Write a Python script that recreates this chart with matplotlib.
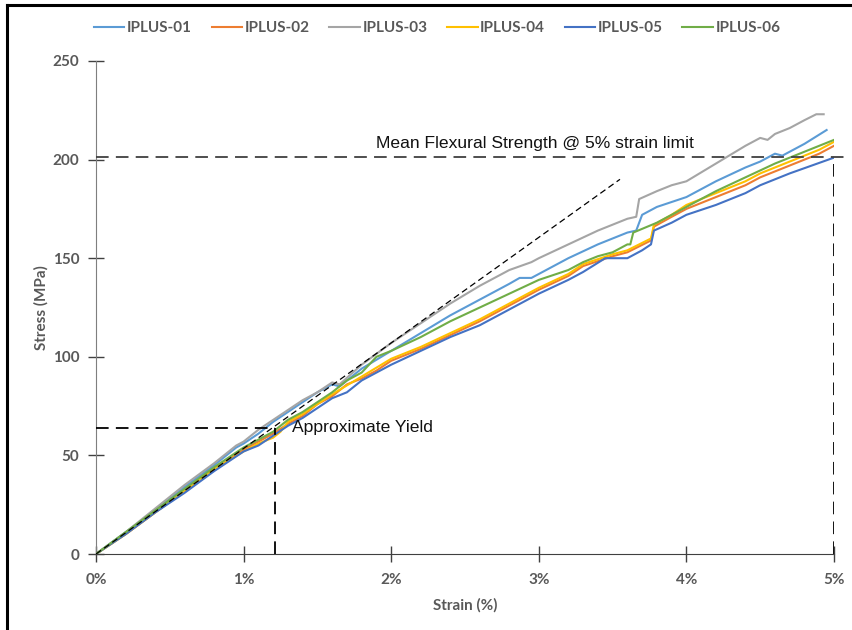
import matplotlib
matplotlib.use("Agg")
import matplotlib.pyplot as plt
from matplotlib.lines import Line2D

# ---- data: strain (%) vs stress (MPa) for each specimen ----
series_names = ["IPLUS-01", "IPLUS-02", "IPLUS-03", "IPLUS-04", "IPLUS-05", "IPLUS-06"]
series_colors = ["#5B9BD5", "#ED7D31", "#A5A5A5", "#FFC000", "#4472C4", "#70AD47"]

strain_01 = [0, 0.2, 0.4, 0.6, 0.8, 0.95, 1.0, 1.1, 1.2, 1.3, 1.4, 1.5, 1.6, 1.65, 1.8, 2.0,
             2.2, 2.4, 2.6, 2.8, 2.87, 2.95, 3.0, 3.2, 3.4, 3.6, 3.66, 3.7, 3.8, 4.0, 4.2, 4.4,
             4.5, 4.6, 4.65, 4.8, 4.95]
stress_01 = [0, 11, 22, 34, 45, 54, 56, 61, 67, 72, 77, 82, 86, 85, 94, 103,
             112, 121, 129, 137, 140, 140, 142, 150, 157, 163, 164, 172, 176, 181, 189, 196,
             199, 203, 202, 208, 215]

strain_02 = [0, 0.2, 0.4, 0.6, 0.8, 1.0, 1.1, 1.2, 1.3, 1.4, 1.5, 1.6, 1.7, 1.8, 1.9, 2.0,
             2.2, 2.4, 2.6, 2.8, 3.0, 3.2, 3.3, 3.5, 3.6, 3.76, 3.78, 3.9, 4.0, 4.2, 4.4, 4.5,
             4.7, 4.9, 5.0]
stress_02 = [0, 10, 21, 32, 43, 53, 57, 61, 66, 70, 76, 80, 86, 89, 93, 98,
             104, 111, 118, 126, 134, 141, 146, 151, 153, 159, 166, 171, 175, 181, 187, 191,
             197, 203, 207]

strain_03 = [0, 0.2, 0.4, 0.6, 0.8, 0.95, 1.0, 1.1, 1.2, 1.3, 1.4, 1.5, 1.6, 1.65, 1.8, 2.0,
             2.2, 2.4, 2.6, 2.8, 2.95, 3.0, 3.2, 3.4, 3.6, 3.66, 3.68, 3.8, 3.9, 4.0, 4.2, 4.4,
             4.5, 4.55, 4.6, 4.7, 4.8, 4.88, 4.93]
stress_03 = [0, 11, 23, 35, 46, 55, 57, 63, 68, 73, 78, 82, 87, 86, 96, 107,
             117, 127, 136, 144, 148, 150, 157, 164, 170, 171, 180, 184, 187, 189, 198, 207,
             211, 210, 213, 216, 220, 223, 223]

strain_04 = [0, 0.2, 0.4, 0.6, 0.8, 1.0, 1.1, 1.2, 1.25, 1.3, 1.4, 1.5, 1.6, 1.8, 2.0,
             2.2, 2.4, 2.6, 2.8, 3.0, 3.2, 3.3, 3.5, 3.6, 3.76, 3.78, 3.9, 4.0, 4.2, 4.4, 4.5,
             4.7, 4.9, 5.0]
stress_04 = [0, 10, 21, 32, 43, 52, 56, 59, 62, 67, 71, 76, 81, 90, 99,
             105, 112, 119, 127, 135, 142, 147, 152, 154, 160, 167, 172, 177, 183, 189, 193,
             199, 205, 209]

strain_05 = [0, 0.2, 0.4, 0.6, 0.8, 1.0, 1.1, 1.2, 1.3, 1.4, 1.5, 1.6, 1.7, 1.8, 2.0,
             2.2, 2.4, 2.6, 2.8, 3.0, 3.2, 3.3, 3.45, 3.5, 3.6, 3.7, 3.76, 3.78, 3.9, 4.0, 4.2,
             4.4, 4.5, 4.7, 4.85, 5.0]
stress_05 = [0, 10, 21, 31, 42, 52, 55, 60, 65, 69, 74, 79, 82, 88, 96,
             103, 110, 116, 124, 132, 139, 143, 150, 150, 150, 154, 157, 164, 168, 172, 177,
             183, 187, 193, 197, 201]

strain_06 = [0, 0.2, 0.4, 0.6, 0.8, 1.0, 1.1, 1.2, 1.3, 1.4, 1.5, 1.6, 1.7, 1.8, 1.9, 2.0,
             2.2, 2.4, 2.6, 2.8, 3.0, 3.2, 3.3, 3.4, 3.5, 3.6, 3.62, 3.64, 3.8, 4.0, 4.2, 4.4,
             4.6, 4.8, 5.0]
stress_06 = [0, 11, 22, 33, 44, 54, 58, 62, 68, 72, 77, 82, 88, 92, 100, 103,
             110, 118, 125, 132, 139, 144, 148, 151, 153, 157, 157, 163, 168, 176, 184, 191,
             198, 204, 210]

strains = [strain_01, strain_02, strain_03, strain_04, strain_05, strain_06]
stresses = [stress_01, stress_02, stress_03, stress_04, stress_05, stress_06]

# reference lines
tangent_strain = [0, 3.55]
tangent_stress = [0, 190]
yield_strain = 1.21
yield_stress = 64
strain_limit = 5.0
mean_strength = 201.5

x_ticks = [0, 1, 2, 3, 4, 5]
x_tick_labels = ["0%", "1%", "2%", "3%", "4%", "5%"]
y_ticks = [0, 50, 100, 150, 200, 250]

# ---- figure ----
fig = plt.figure(figsize=(8.52, 6.30), dpi=100)
ax = fig.add_axes([96 / 852, 1 - 554 / 630, (834 - 96) / 852, (554 - 61) / 630])

grey = "#595959"
label_font = {"family": ["Lato", "DejaVu Sans"], "weight": "bold", "color": grey}

for i in range(6):
    ax.plot(strains[i], stresses[i], color=series_colors[i], lw=1.5,
            label=series_names[i], zorder=3)

# initial-slope tangent
ax.plot(tangent_strain, tangent_stress, color="black", lw=0.9, ls=(0, (5, 3)), zorder=4)

# approximate yield
ax.plot([0, yield_strain], [yield_stress, yield_stress], color="black", lw=1.3,
        ls=(0, (7, 4)), zorder=4)
ax.plot([yield_strain, yield_strain], [0, yield_stress], color="black", lw=1.3,
        ls=(0, (7, 4)), zorder=4)
ax.text(1.33, yield_stress, "Approximate Yield", fontsize=12.6,
        family=["Liberation Sans", "DejaVu Sans"], va="center", ha="left", color="#111111")

# mean flexural strength at 5% strain
ax.plot([0, 5.08], [mean_strength, mean_strength], color="#404040", lw=1.3,
        ls=(0, (7, 4)), zorder=4, clip_on=False)
ax.plot([strain_limit, strain_limit], [0, mean_strength], color="black", lw=1.3,
        ls=(0, (7, 4)), zorder=4)
ax.text(1.90, 208, "Mean Flexural Strength @ 5% strain limit", fontsize=12.6,
        family=["Liberation Sans", "DejaVu Sans"], va="center", ha="left", color="#111111")

ax.set_xlim(0, 5)
ax.set_ylim(0, 250)
ax.set_xticks(x_ticks)
ax.set_xticklabels(x_tick_labels)
ax.set_yticks(y_ticks)

for side in ["top", "right"]:
    ax.spines[side].set_visible(False)
ax.spines["left"].set_color("#7f7f7f")
ax.spines["bottom"].set_color("#404040")
ax.tick_params(axis="both", direction="inout", length=12, width=1, colors="#404040",
               labelcolor=grey, labelsize=11)
ax.tick_params(axis="x", pad=8)
ax.tick_params(axis="y", pad=6)
for lab in ax.get_xticklabels() + ax.get_yticklabels():
    lab.set_fontfamily(["Lato", "DejaVu Sans"])
    lab.set_fontweight("bold")

ax.set_xlabel("Strain (%)", fontsize=11, labelpad=8, **label_font)
ax.set_ylabel("Stress (MPa)", fontsize=11, labelpad=3, **label_font)

leg = fig.legend(loc="center", bbox_to_anchor=(0.513, 1 - 28 / 630), ncol=6, frameon=False,
                 handlelength=2.0, columnspacing=1.3, handletextpad=0.15,
                 prop={"family": ["Lato", "DejaVu Sans"], "weight": "bold", "size": 11})
for t in leg.get_texts():
    t.set_color(grey)

# frame edges on the left and top of the canvas
fig.add_artist(Line2D([7 / 852, 7 / 852], [0, 1 - 5 / 630], transform=fig.transFigure,
                      color="black", lw=2.2))
fig.add_artist(Line2D([7 / 852, 1], [1 - 5 / 630, 1 - 5 / 630], transform=fig.transFigure,
                      color="black", lw=2.2))

fig.savefig("out.png", dpi=100)
